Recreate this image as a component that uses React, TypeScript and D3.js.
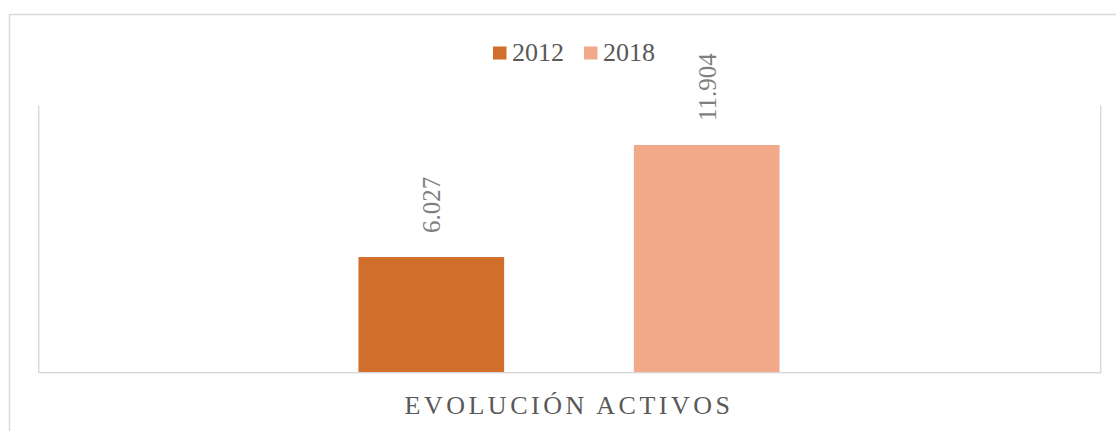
import * as d3 from "d3";
import { useEffect, useRef } from "react";

// chart values
const categories = ["EVOLUCIÓN ACTIVOS"];
const seriesNames = ["2012", "2018"];
const seriesValues = [6027, 11904];
const seriesColors = ["#D26E2B", "#F1A98A"];

const width = 1116;
const height = 431;
const plotLeft = 38;
const plotRight = 1100;
const plotTop = 105;
const plotBottom = 372;

const esLocale = d3.formatLocale({
  decimal: ",",
  thousands: ".",
  grouping: [3],
  currency: ["", " €"],
});
const fmt = esLocale.format(",.0f");

export default function App() {
  const svgRef = useRef<SVGSVGElement>(null);

  useEffect(() => {
    const svg = d3.select(svgRef.current);
    svg.selectAll("*").remove();

    const font = "Liberation Serif";

    // outer chart border
    svg
      .append("rect")
      .attr("x", 9.5)
      .attr("y", 14.5)
      .attr("width", 1200)
      .attr("height", 500)
      .attr("fill", "#fff")
      .attr("stroke", "#d9d9d9")
      .attr("stroke-width", 1.5);

    // scales
    const y = d3.scaleLinear().domain([0, 14000]).range([plotBottom, plotTop]);
    const x0 = d3
      .scaleBand()
      .domain(categories)
      .range([plotLeft, plotRight])
      .paddingOuter(0.761);
    const x1 = d3
      .scaleBand()
      .domain(seriesNames)
      .range([0, x0.bandwidth()])
      .paddingInner(0.471)
      .paddingOuter(0);

    // plot area box (left, bottom, right), with a faint shadow
    const box = d3.path();
    box.moveTo(plotLeft + 0.5, plotTop);
    box.lineTo(plotLeft + 0.5, plotBottom + 0.5);
    box.lineTo(plotRight + 0.5, plotBottom + 0.5);
    box.lineTo(plotRight + 0.5, plotTop);
    svg
      .append("path")
      .attr("d", box.toString())
      .attr("transform", "translate(1,1)")
      .attr("fill", "none")
      .attr("stroke", "#eeeeee")
      .attr("stroke-width", 1);
    svg
      .append("path")
      .attr("d", box.toString())
      .attr("fill", "none")
      .attr("stroke", "#d9d9d9")
      .attr("stroke-width", 1);

    const groups = svg
      .selectAll("g.cat")
      .data(categories)
      .enter()
      .append("g")
      .attr("class", "cat")
      .attr("transform", (d) => `translate(${x0(d)},0)`);

    const rows = seriesNames.map((s, i) => ({
      name: s,
      value: seriesValues[i],
      color: seriesColors[i],
    }));

    groups
      .selectAll("rect")
      .data(rows)
      .enter()
      .append("rect")
      .attr("x", (d) => x1(d.name)!)
      .attr("y", (d) => y(d.value))
      .attr("width", x1.bandwidth())
      .attr("height", (d) => plotBottom - y(d.value))
      .attr("fill", (d) => d.color);

    // rotated data labels
    const labelSize = 25;
    groups
      .selectAll("text.lbl")
      .data(rows)
      .enter()
      .append("text")
      .attr("class", "lbl")
      .attr("transform", (d) => {
        const cx = x1(d.name)! + x1.bandwidth() / 2 + labelSize * 0.36;
        const cy = y(d.value) - 24;
        return `translate(${cx},${cy}) rotate(-90)`;
      })
      .attr("font-family", font)
      .attr("font-size", labelSize)
      .attr("fill", "#7f7f7f")
      .text((d) => fmt(d.value));

    // axis line redraw on top of bars
    svg
      .append("line")
      .attr("x1", plotLeft)
      .attr("x2", plotRight + 1)
      .attr("y1", plotBottom + 0.5)
      .attr("y2", plotBottom + 0.5)
      .attr("stroke", "#d9d9d9");

    // category label
    svg
      .append("text")
      .attr("x", x0(categories[0])! + x0.bandwidth() / 2)
      .attr("y", 414)
      .attr("text-anchor", "middle")
      .attr("font-family", font)
      .attr("font-size", 26)
      .attr("letter-spacing", 3.5)
      .attr("fill", "#595959")
      .text(categories[0]);

    // legend
    const legend = svg
      .selectAll("g.leg")
      .data(rows)
      .enter()
      .append("g")
      .attr("class", "leg")
      .attr("transform", (d, i) => `translate(${493 + i * 91},0)`);
    legend
      .append("rect")
      .attr("x", 0)
      .attr("y", 46.5)
      .attr("width", 13.5)
      .attr("height", 13)
      .attr("fill", (d) => d.color);
    legend
      .append("text")
      .attr("x", 19)
      .attr("y", 61)
      .attr("font-family", font)
      .attr("font-size", 26)
      .attr("fill", "#595959")
      .text((d) => d.name);
  }, []);

  return (
    <div style={{ position: "absolute", left: 0, top: 0 }}>
      <svg ref={svgRef} width={width} height={height} style={{ display: "block" }}></svg>
    </div>
  );
}
